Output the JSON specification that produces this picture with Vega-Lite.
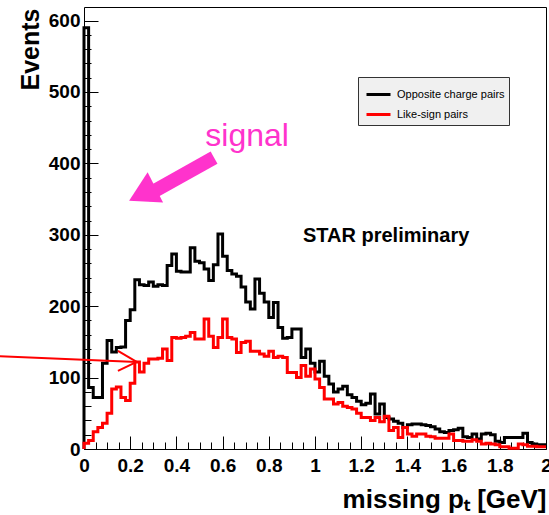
{
"$schema": "https://vega.github.io/schema/vega-lite/v6.json",
"width": 462, "height": 442,
"autosize": {"type": "none"},
"padding": {"left": 84, "top": 7, "right": 3, "bottom": 66},
"background": "white",
"config": {"view": {"stroke": "black", "strokeWidth": 1}, "font": "Liberation Sans", "axis": {"grid": false, "domain": false}},
"resolve": {"axis": {"x": "independent", "y": "independent"}},
"layer": [
{
"data": {"values": [
{"x":0,"opposite":0,"like":0},
{"x":0,"opposite":590,"like":8},
{"x":0.02,"opposite":86,"like":12},
{"x":0.04,"opposite":72,"like":24},
{"x":0.06,"opposite":72,"like":30},
{"x":0.08,"opposite":120,"like":36},
{"x":0.1,"opposite":152,"like":50},
{"x":0.12,"opposite":136,"like":84},
{"x":0.14,"opposite":142,"like":87},
{"x":0.16,"opposite":143,"like":72},
{"x":0.18,"opposite":180,"like":68},
{"x":0.2,"opposite":195,"like":92},
{"x":0.22,"opposite":237,"like":122},
{"x":0.24,"opposite":230,"like":108},
{"x":0.26,"opposite":229,"like":120},
{"x":0.28,"opposite":234,"like":126},
{"x":0.3,"opposite":228,"like":126},
{"x":0.32,"opposite":230,"like":127},
{"x":0.34,"opposite":229,"like":140},
{"x":0.36,"opposite":257,"like":124},
{"x":0.38,"opposite":273,"like":156},
{"x":0.4,"opposite":249,"like":155},
{"x":0.42,"opposite":248,"like":156},
{"x":0.44,"opposite":248,"like":158},
{"x":0.46,"opposite":282,"like":163},
{"x":0.48,"opposite":263,"like":154},
{"x":0.5,"opposite":261,"like":154},
{"x":0.52,"opposite":252,"like":182},
{"x":0.54,"opposite":236,"like":158},
{"x":0.56,"opposite":258,"like":142},
{"x":0.58,"opposite":301,"like":156},
{"x":0.6,"opposite":270,"like":182},
{"x":0.62,"opposite":250,"like":156},
{"x":0.64,"opposite":245,"like":154},
{"x":0.66,"opposite":242,"like":135},
{"x":0.68,"opposite":227,"like":149},
{"x":0.7,"opposite":206,"like":151},
{"x":0.72,"opposite":196,"like":137},
{"x":0.74,"opposite":238,"like":137},
{"x":0.76,"opposite":218,"like":133},
{"x":0.78,"opposite":206,"like":130},
{"x":0.8,"opposite":184,"like":137},
{"x":0.82,"opposite":205,"like":128},
{"x":0.84,"opposite":170,"like":130},
{"x":0.86,"opposite":155,"like":128},
{"x":0.88,"opposite":156,"like":107},
{"x":0.9,"opposite":168,"like":107},
{"x":0.92,"opposite":168,"like":100},
{"x":0.94,"opposite":128,"like":117},
{"x":0.96,"opposite":140,"like":102},
{"x":0.98,"opposite":120,"like":112},
{"x":1,"opposite":108,"like":98},
{"x":1.02,"opposite":123,"like":86},
{"x":1.04,"opposite":102,"like":70},
{"x":1.06,"opposite":91,"like":70},
{"x":1.08,"opposite":80,"like":63},
{"x":1.1,"opposite":84,"like":65},
{"x":1.12,"opposite":88,"like":60},
{"x":1.14,"opposite":76,"like":58},
{"x":1.16,"opposite":72,"like":56},
{"x":1.18,"opposite":67,"like":50},
{"x":1.2,"opposite":62,"like":44},
{"x":1.22,"opposite":64,"like":44},
{"x":1.24,"opposite":77,"like":40},
{"x":1.26,"opposite":49,"like":44},
{"x":1.28,"opposite":63,"like":38},
{"x":1.3,"opposite":44,"like":46},
{"x":1.32,"opposite":42,"like":26},
{"x":1.34,"opposite":39,"like":30},
{"x":1.36,"opposite":36,"like":16},
{"x":1.38,"opposite":30,"like":30},
{"x":1.4,"opposite":34,"like":21},
{"x":1.42,"opposite":35,"like":18},
{"x":1.44,"opposite":35,"like":21},
{"x":1.46,"opposite":34,"like":21},
{"x":1.48,"opposite":33,"like":18},
{"x":1.5,"opposite":31,"like":17},
{"x":1.52,"opposite":28,"like":15},
{"x":1.54,"opposite":24,"like":15},
{"x":1.56,"opposite":23,"like":15},
{"x":1.58,"opposite":26,"like":21},
{"x":1.6,"opposite":27,"like":12},
{"x":1.62,"opposite":29,"like":12},
{"x":1.64,"opposite":17,"like":11},
{"x":1.66,"opposite":16,"like":11},
{"x":1.68,"opposite":21,"like":13},
{"x":1.7,"opposite":14,"like":11},
{"x":1.72,"opposite":21,"like":7},
{"x":1.74,"opposite":22,"like":8},
{"x":1.76,"opposite":20,"like":7},
{"x":1.78,"opposite":11,"like":6},
{"x":1.8,"opposite":9,"like":3},
{"x":1.82,"opposite":16,"like":3},
{"x":1.84,"opposite":16,"like":1},
{"x":1.86,"opposite":16,"like":1},
{"x":1.88,"opposite":16,"like":7},
{"x":1.9,"opposite":22,"like":6},
{"x":1.92,"opposite":9,"like":4},
{"x":1.94,"opposite":7,"like":4},
{"x":1.96,"opposite":6,"like":3},
{"x":1.98,"opposite":6,"like":3},
{"x":2,"opposite":6,"like":3}
]},
"transform": [{"fold": ["opposite", "like"], "as": ["series", "events"]}],
"mark": {"type": "line", "interpolate": "step-after", "strokeWidth": 3, "strokeJoin": "miter"},
"encoding": {
"x": {"field": "x", "type": "quantitative", "scale": {"domain": [0, 2], "nice": false, "zero": false},
"axis": {"orient": "bottom", "values": [0,0.2,0.4,0.6,0.8,1,1.2,1.4,1.6,1.8,2],
"format": "~g", "tickSize": -13,
"labelFlush": false, "labelOverlap": false,
"tickColor": "black", "tickWidth": 1,
"labelFont": "Liberation Sans", "labelFontWeight": "bold", "labelFontSize": 19, "labelColor": "black",
"labelPadding": 20, "labelBaseline": "top",
"title": "missing pₜ [GeV]", "titleFont": "Liberation Sans", "titleFontSize": 26, "titleFontWeight": "bold", "titleColor": "black",
"titleX": 462, "titleY": 58, "titleAlign": "right", "titleBaseline": "alphabetic"}},
"y": {"field": "events", "type": "quantitative", "scale": {"domain": [0, 619], "nice": false},
"axis": {"orient": "left", "values": [0,100,200,300,400,500,600],
"format": "d", "tickSize": -14,
"labelFlush": false, "labelOverlap": false,
"tickColor": "black", "tickWidth": 1,
"labelFont": "Liberation Sans", "labelFontWeight": "bold", "labelFontSize": 19, "labelColor": "black",
"labelPadding": 18,
"title": "Events", "titleFont": "Liberation Sans", "titleFontSize": 25, "titleFontWeight": "bold", "titleColor": "black",
"titleAngle": 270, "titleX": -46, "titleY": 1, "titleAlign": "right", "titleBaseline": "alphabetic"}},
"color": {"field": "series", "type": "nominal", "scale": {"domain": ["opposite", "like"], "range": ["#000000", "#ff0000"]},
"legend": {"orient": "none", "legendX": 274, "legendY": 70, "title": null,
"labelExpr": "datum.value === 'opposite' ? 'Opposite charge pairs' : 'Like-sign pairs'",
"symbolType": "stroke", "symbolStrokeWidth": 3, "symbolSize": 576, "rowPadding": 0, "padding": 4, "symbolOffset": 3, "labelOffset": 5,
"labelFontSize": 11, "labelFont": "Liberation Sans", "labelColor": "black",
"fillColor": "#f0f0f0", "strokeColor": "#333333"}}
}
},
{
"data": {"values": [{"x": 1.308, "y": 290, "label": "STAR preliminary"}]},
"mark": {"type": "text", "font": "Liberation Sans", "fontSize": 20, "fontWeight": "bold", "color": "black", "align": "center", "baseline": "alphabetic"},
"encoding": {
"x": {"field": "x", "type": "quantitative", "scale": {"domain": [0, 2], "nice": false, "zero": false},
"axis": {"orient": "bottom", "values": [0.05,0.1,0.15,0.25,0.3,0.35,0.45,0.5,0.55,0.65,0.7,0.75,0.85,0.9,0.95,1.05,1.1,1.15,1.25,1.3,1.35,1.45,1.5,1.55,1.65,1.7,1.75,1.85,1.9,1.95],
"tickSize": -7, "tickColor": "black", "tickWidth": 1, "labels": false, "title": null}},
"y": {"field": "y", "type": "quantitative", "scale": {"domain": [0, 619], "nice": false},
"axis": {"orient": "left", "values": [20,40,60,80,120,140,160,180,220,240,260,280,320,340,360,380,420,440,460,480,520,540,560,580],
"tickSize": -7, "tickColor": "black", "tickWidth": 1, "labels": false, "title": null}},
"text": {"field": "label"}
}
},
{
"data": {"values": [{"x": 0.706, "y": 425, "label": "signal"}]},
"mark": {"type": "text", "font": "Liberation Sans", "fontSize": 32, "color": "#ff33cc", "align": "center", "baseline": "alphabetic"},
"encoding": {
"x": {"field": "x", "type": "quantitative", "scale": {"domain": [0, 2], "nice": false, "zero": false}, "axis": null},
"y": {"field": "y", "type": "quantitative", "scale": {"domain": [0, 619], "nice": false}, "axis": null},
"text": {"field": "label"}
}
},
{
"data": {"values": [{"x": 0.563, "y": 408, "x2": 0.27, "y2": 355}]},
"mark": {"type": "rule", "color": "#ff33cc", "strokeWidth": 14, "strokeCap": "butt"},
"encoding": {
"x": {"field": "x", "type": "quantitative", "scale": {"domain": [0, 2], "nice": false, "zero": false}, "axis": null},
"y": {"field": "y", "type": "quantitative", "scale": {"domain": [0, 619], "nice": false}, "axis": null},
"x2": {"field": "x2"}, "y2": {"field": "y2"}
}
},
{
"data": {"values": [{"x": 0.252, "y": 357}]},
"mark": {"type": "point", "shape": "triangle-left", "filled": true, "color": "#ff33cc", "opacity": 1, "size": 1156, "angle": 333},
"encoding": {
"x": {"field": "x", "type": "quantitative", "scale": {"domain": [0, 2], "nice": false, "zero": false}, "axis": null},
"y": {"field": "y", "type": "quantitative", "scale": {"domain": [0, 619], "nice": false}, "axis": null}
}
},
{
"data": {"values": [
{"x": -0.364, "y": 130, "x2": 0.228, "y2": 122},
{"x": 0.147, "y": 137.4, "x2": 0.228, "y2": 122},
{"x": 0.147, "y": 109.4, "x2": 0.228, "y2": 122}
]},
"mark": {"type": "rule", "color": "#ff0000", "strokeWidth": 2},
"encoding": {
"x": {"field": "x", "type": "quantitative", "scale": {"domain": [0, 2], "nice": false, "zero": false}, "axis": null},
"y": {"field": "y", "type": "quantitative", "scale": {"domain": [0, 619], "nice": false}, "axis": null},
"x2": {"field": "x2"}, "y2": {"field": "y2"}
}
}
]
}
